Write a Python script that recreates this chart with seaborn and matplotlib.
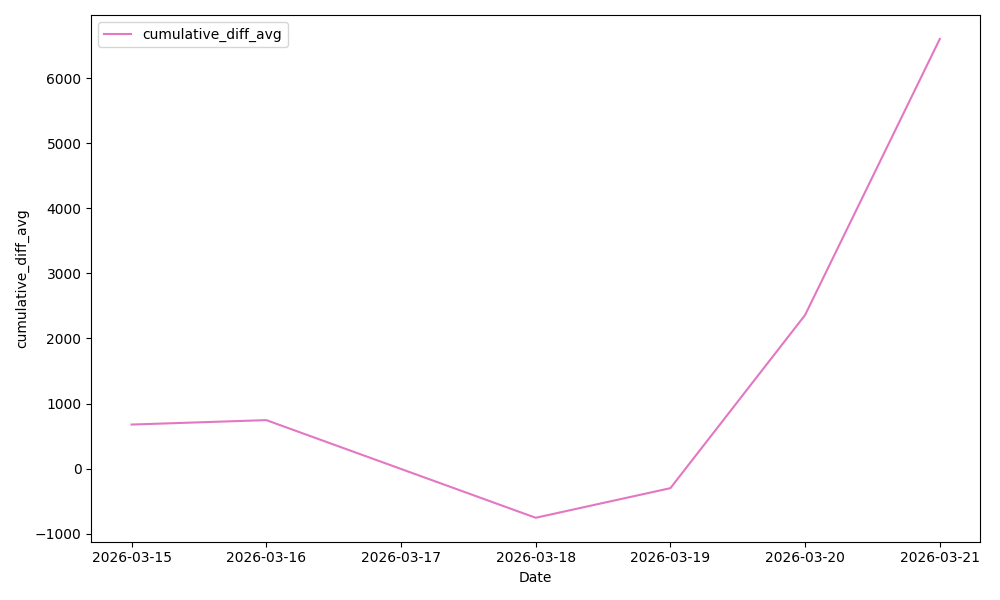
import pandas as pd
import matplotlib.pyplot as plt
import seaborn as sns

dates = ['2026-03-15', '2026-03-16', '2026-03-18', '2026-03-19', '2026-03-20', '2026-03-21']
cumulative_diff_avg = [677, 745, -755, -300, 2360, 6600]

df = pd.DataFrame({'Date': pd.to_datetime(dates), 'cumulative_diff_avg': cumulative_diff_avg})

fig, ax = plt.subplots(figsize=(10, 6))
sns.lineplot(data=df, x='Date', y='cumulative_diff_avg', color='#e377c2',
             label='cumulative_diff_avg', ax=ax)

# one tick per day
ticks = pd.date_range('2026-03-15', '2026-03-21')
ax.set_xticks(ticks)
ax.set_xticklabels([d.strftime('%Y-%m-%d') for d in ticks])
ax.legend(loc='upper left')

plt.tight_layout()
plt.savefig('out.png', dpi=100)
